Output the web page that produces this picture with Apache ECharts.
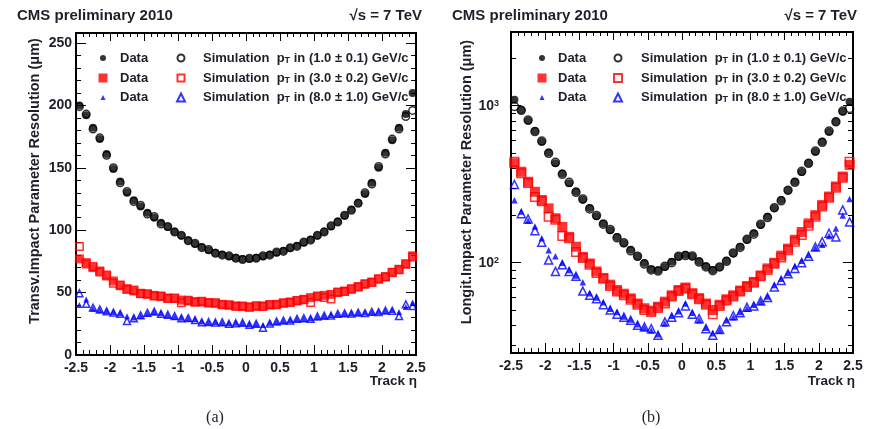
<!DOCTYPE html>
<html>
<head>
<meta charset="utf-8">
<script src="https://cdn.jsdelivr.net/npm/echarts@6/dist/echarts.min.js"></script>
<style>
html,body{margin:0;padding:0;background:#fff;}
#chart{width:871px;height:429px;}
</style>
</head>
<body>
<div id="chart"></div>
<script>
// Track pseudorapidity bin centres (bin width 0.1)
const etaBins = [-2.45,-2.35,-2.25,-2.15,-2.05,-1.95,-1.85,-1.75,-1.65,-1.55,
  -1.45,-1.35,-1.25,-1.15,-1.05,-0.95,-0.85,-0.75,-0.65,-0.55,
  -0.45,-0.35,-0.25,-0.15,-0.05,0.05,0.15,0.25,0.35,0.45,
  0.55,0.65,0.75,0.85,0.95,1.05,1.15,1.25,1.35,1.45,
  1.55,1.65,1.75,1.85,1.95,2.05,2.15,2.25,2.35,2.45];

// (a) transverse impact parameter resolution, µm
const transvData1 = [200,192,182,173,161,149,139,130,124,119,
  114,110,106,102.5,99,95.5,92,89,86.5,84,
  82,80.5,79,78,77,77,78,79,80.5,82,
  83.5,85.5,87.5,90,92.5,95.5,99,103,107,111.5,
  116.5,122,129,138,150,162,172,182,193,210];
const transvSim1 = [199,193,181,174,160,150,138,131,123,120,
  113,111,105,103,98.5,96,91.5,89.5,86,84.5,
  81.5,80,79.5,77.5,76.5,77.5,77.5,79.5,80,82.5,
  83,86,87,90.5,92,96,98.5,103.5,106.5,112,
  116,121.5,130,137,151,161,173,181,191,196];
const transvData3 = [77,74,70,67.3,63.3,59.3,55.5,53.2,51.3,49.5,
  48.6,47.8,46.8,45.7,45.2,44,43.3,42.8,42.5,42,
  41.4,40.6,39.8,39.2,38.8,38.5,39,39.3,40,40.6,
  41.4,42.5,43.3,44.6,46,46.8,47.8,48.6,50,51.3,
  52.7,54.8,56.7,58.5,60.7,62.8,66,68.7,72.7,79.4];
const transvSim3 = [87,73,71,66.5,64,57.5,56,52.5,52,49,
  49,47.2,47.3,45.2,45.6,41.8,43.8,42.3,43,41.6,
  41.8,40.2,40.2,39,39.2,38.2,39.4,38.9,40.4,40.2,
  41.8,42.1,43.7,44.2,42,47.2,46,44.8,50.4,50.9,
  53.1,54.4,57.1,58.1,61.1,62.4,66.4,68.3,73.2,78.5];
const transvData8 = [40,44.5,37,36,35.2,34.4,33.4,31,30,31.2,
  33,34.4,33.4,31.8,30.7,29.9,29.1,28.6,26.8,26,
  26.4,25.9,25.4,25.9,25.4,24.6,24.6,24,25.9,26.5,
  27.2,28,28.6,29,29.4,30.5,31.2,32,32.6,33,
  33.4,33.6,34,34.2,34.6,35.2,36,34.5,38.5,42];
const transvSim8 = [49.5,41,38,36.5,35,34,33,27.2,29.5,31.8,
  33.8,34.8,33,32.3,31.2,29.5,29.6,28,26.2,26.4,
  26,26.3,25,25.4,25.8,24.2,25,21.9,25.2,26.8,
  27.6,27.6,29,29.5,29,30.9,31.5,31.6,33,33.4,
  33.2,34,33.6,34.6,34.4,35.6,35.4,31.2,40.6,39.2];

// (b) longitudinal impact parameter resolution, µm
const longitData1 = [1090,940,802,690,590,503,431,370,321,284,
  252,223,198,178,161,146,133,121,109,99.5,
  91,89.5,94,101.5,109,112.5,109.5,102,95,90,
  93.5,103,114.5,126.5,140,154,174,196,222,251,
  288,328,378,432,509,590,683,795,920,1060];
const longitSim1 = [990,935,810,685,596,498,436,366,325,281,
  255,220,200,176,163,144,134,119,110,98,
  90,88.5,95,100,110,111,110.5,101,94,89,
  94,102,115.5,125,141,152,176,194,224,248,
  290,325,382,430,514,585,690,790,925,962];
const longitData3 = [430,380,328,283,251,222,192,169,146,126.5,
  109,99,88,80,72.5,67,63.5,59.3,55,51.3,
  49.5,52.5,56.5,62,67,69.5,64,59.5,55,50,
  54,58.5,62,66.5,71,75.5,83,92,100,111,
  123,140,157,178,201,233,264,306,354,420];
const longitSim3 = [440,372,322,262,246,196,188,148,143,117,
  107,97,86,79,71,65.5,62,58,54,50,
  48.5,51.5,55,61,66,68.5,63,58.5,54,47,
  53,57.5,61,65.5,70,74.5,82,90,98.5,108,
  120,136,150,172,196,228,259,300,348,440];
const longitData8 = [250,212,185,170,143,120,110,100,90,83,
  75,64,60,56,51,48.5,45.5,43.5,40.5,38.5,
  37,35,41,46,49,55,48,43,38.5,35.5,
  37,43,45,48.5,51,54,56.5,61,72,79,
  86,95,103,112,124,130,148,165,200,255];
const longitSim8 = [315,205,190,160,135,104,88,97,88,82,
  66,62,59,54,50,47,45,43,40,39,
  38,34.5,42,45,48,53,47,44,38,34.5,
  37.5,42,46,48,52,53,57,60,70,77,
  85,92,100,110,126,136,154,146,217,182];

// pT selections shown in the legends
const ptLabels = ['(1.0 \u00b1 0.1)', '(3.0 \u00b1 0.2)', '(8.0 \u00b1 1.0)'];

// axis ranges and tick positions
const transvMax = 258;
const longitMin = 26.6, longitMax = 2950;
const longitMinorTicks = [30,40,50,60,70,80,90,200,300,400,500,600,700,800,900,2000];

const SANS = '"Liberation Sans", Arial, Helvetica, sans-serif';
const TXT = '#1f1f2a';
const tickLine = {color: '#000', width: 1};
const RED = '#ff0000', BLUE = '#0000ff', BLACK = '#000000';

function pairs(vals) { return etaBins.map((x, i) => [x, vals[i]]); }

function etaAxis(gridIndex, position) {
  const bottom = position === 'bottom';
  return {
    type: 'value', gridIndex, position, min: -2.5, max: 2.5, interval: 0.5,
    axisLine: {show: false, onZero: false},
    axisTick: {show: true, inside: true, length: bottom ? 10 : 8, lineStyle: tickLine},
    minorTick: {show: true, splitNumber: 5, length: bottom ? 5 : 4, lineStyle: tickLine},
    splitLine: {show: false}, minorSplitLine: {show: false},
    axisLabel: {show: bottom, margin: 6, color: TXT, fontFamily: SANS, fontWeight: 'bold', fontSize: 14}
  };
}

function transvAxis(position, minor) {
  const main = position === 'left' && !minor;
  return {
    type: 'value', gridIndex: 0, position, min: 0, max: transvMax, interval: minor ? 10 : 50,
    axisLine: {show: false, onZero: false},
    axisTick: {show: true, inside: true, length: minor ? 5 : 10, lineStyle: tickLine},
    splitLine: {show: false},
    axisLabel: {show: main, showMaxLabel: false, margin: 4, color: TXT, fontFamily: SANS, fontWeight: 'bold', fontSize: 14},
    name: main ? 'Transv.Impact Parameter Resolution (\u03bcm)' : '',
    nameLocation: 'middle', nameRotate: 90, nameGap: 34,
    nameTextStyle: {color: TXT, fontFamily: SANS, fontWeight: 'bold', fontSize: 14.5, padding: [0, 0, 0, 26]}
  };
}

function longitAxis(position) {
  const main = position === 'left';
  return {
    type: 'log', logBase: 10, gridIndex: 1, position, min: longitMin, max: longitMax,
    axisLine: {show: false, onZero: false},
    axisTick: {show: true, inside: true, length: 10, lineStyle: tickLine},
    splitLine: {show: false},
    axisLabel: {
      show: main, margin: 12, color: TXT, fontFamily: SANS, fontWeight: 'bold', fontSize: 14,
      formatter: v => {
        const e = Math.log10(v), p = Math.round(e);
        return Math.abs(e - p) < 1e-6 ? '10{sup|' + p + '}' : '';
      },
      rich: {sup: {fontSize: 9, fontWeight: 'bold', fontFamily: SANS, color: TXT, lineHeight: 6, verticalAlign: 'top'}}
    },
    name: main ? 'Longit.Impact Parameter Resolution (\u03bcm)' : '',
    nameLocation: 'middle', nameRotate: 90, nameGap: 32,
    nameTextStyle: {color: TXT, fontFamily: SANS, fontWeight: 'bold', fontSize: 14.5, padding: [0, 0, 0, 21]}
  };
}

function longitMinorAxis(position) {
  return {
    type: 'value', gridIndex: 1, position, min: Math.log10(longitMin), max: Math.log10(longitMax),
    axisLine: {show: false, onZero: false},
    axisTick: {show: true, inside: true, length: 5, lineStyle: tickLine,
      customValues: longitMinorTicks.map(v => Math.log10(v))},
    splitLine: {show: false},
    axisLabel: {show: false}
  };
}

// series definitions: panel, selection, data/sim, values, marker
const seriesSpecs = [
  {id: 'a-d1', panel: 0, row: 0, sim: false, vals: transvData1, symbol: 'circle', size: 8, color: BLACK, lsize: 6},
  {id: 'a-s1', panel: 0, row: 0, sim: true,  vals: transvSim1,  symbol: 'circle', size: 7.5, color: BLACK, lsize: 7},
  {id: 'a-d3', panel: 0, row: 1, sim: false, vals: transvData3, symbol: 'rect', size: 9, color: RED, lsize: 9},
  {id: 'a-s3', panel: 0, row: 1, sim: true,  vals: transvSim3,  symbol: 'rect', size: 7.5, color: RED, lsize: 7},
  {id: 'a-d8', panel: 0, row: 2, sim: false, vals: transvData8, symbol: 'triangle', size: 6, color: BLUE, lsize: 5},
  {id: 'a-s8', panel: 0, row: 2, sim: true,  vals: transvSim8,  symbol: 'triangle', size: 7, color: BLUE, lsize: 8},
  {id: 'b-d1', panel: 1, row: 0, sim: false, vals: longitData1, symbol: 'circle', size: 8, color: BLACK, lsize: 6},
  {id: 'b-s1', panel: 1, row: 0, sim: true,  vals: longitSim1,  symbol: 'circle', size: 8, color: BLACK, lsize: 7},
  {id: 'b-d3', panel: 1, row: 1, sim: false, vals: longitData3, symbol: 'rect', size: 10, color: RED, lsize: 9},
  {id: 'b-s3', panel: 1, row: 1, sim: true,  vals: longitSim3,  symbol: 'rect', size: 8.5, color: RED, lsize: 8},
  {id: 'b-d8', panel: 1, row: 2, sim: false, vals: longitData8, symbol: 'triangle', size: 6.5, color: BLUE, lsize: 5},
  {id: 'b-s8', panel: 1, row: 2, sim: true,  vals: longitSim8,  symbol: 'triangle', size: 8, color: BLUE, lsize: 8}
];

const series = seriesSpecs.map(s => ({
  type: 'scatter', name: s.id, silent: true,
  xAxisIndex: s.panel === 0 ? 0 : 2,
  yAxisIndex: s.panel === 0 ? 0 : 4,
  symbol: s.symbol, symbolSize: s.size,
  z: s.sim ? 3 : 2,
  itemStyle: s.sim
    ? {color: 'transparent', borderColor: s.color, borderWidth: 1.5}
    : {color: s.color, borderWidth: 0},
  data: pairs(s.vals)
}));

// legend layout (marker centre x, text start x) per panel and column
const legendCols = [
  [{mx: 103, tx: 120}, {mx: 180, tx: 202}],
  [{mx: 542, tx: 558}, {mx: 617, tx: 640}]
];
const legendRows = [58, 78, 97.5];

const legends = seriesSpecs.map(s => {
  const col = legendCols[s.panel][s.sim ? 1 : 0];
  const pad = col.tx - (col.mx + s.lsize / 2 + 5);
  const label = s.sim ? 'Simulation  p{sub|T} in ' + ptLabels[s.row] + ' GeV/c' : 'Data';
  return {
    show: true, orient: 'horizontal', padding: 0,
    left: col.mx - s.lsize / 2, top: legendRows[s.row] - 7,
    itemWidth: s.lsize, itemHeight: s.lsize,
    data: [{name: s.id}],
    formatter: () => label,
    selectedMode: false,
    textStyle: {
      color: TXT, fontFamily: SANS, fontWeight: 'bold', fontSize: 13, lineHeight: 14,
      padding: [0, 0, 0, pad],
      rich: {sub: {fontSize: 9, fontWeight: 'bold', fontFamily: SANS, color: TXT, lineHeight: 6, verticalAlign: 'bottom'}}
    }
  };
});

const headFont = 'bold 15px ' + SANS;
const axisTitleFont = 'bold 13.5px ' + SANS;
const option = {
  animation: false,
  backgroundColor: '#ffffff',
  grid: [
    {left: 76, top: 33, width: 340, height: 322, show: true, borderColor: '#000', borderWidth: 2, backgroundColor: 'transparent'},
    {left: 511, top: 32, width: 342, height: 321, show: true, borderColor: '#000', borderWidth: 2, backgroundColor: 'transparent'}
  ],
  xAxis: [etaAxis(0, 'bottom'), etaAxis(0, 'top'), etaAxis(1, 'bottom'), etaAxis(1, 'top')],
  yAxis: [
    transvAxis('left', false), transvAxis('left', true), transvAxis('right', false), transvAxis('right', true),
    longitAxis('left'), longitMinorAxis('left'), longitAxis('right'), longitMinorAxis('right')
  ],
  legend: legends,
  series,
  graphic: [
    {type: 'text', x: 17, y: 16, style: {text: 'CMS preliminary 2010', font: headFont, fill: TXT, align: 'left', verticalAlign: 'middle'}},
    {type: 'text', x: 422, y: 16, style: {text: '\u221as = 7 TeV', font: headFont, fill: TXT, align: 'right', verticalAlign: 'middle'}},
    {type: 'text', x: 452, y: 16, style: {text: 'CMS preliminary 2010', font: headFont, fill: TXT, align: 'left', verticalAlign: 'middle'}},
    {type: 'text', x: 857, y: 16, style: {text: '\u221as = 7 TeV', font: headFont, fill: TXT, align: 'right', verticalAlign: 'middle'}},
    {type: 'text', x: 417, y: 381, style: {text: 'Track \u03b7', font: axisTitleFont, fill: TXT, align: 'right', verticalAlign: 'middle'}},
    {type: 'text', x: 855, y: 381, style: {text: 'Track \u03b7', font: axisTitleFont, fill: TXT, align: 'right', verticalAlign: 'middle'}},
    {type: 'text', x: 215, y: 418, style: {text: '(a)', font: '16px "Liberation Serif", serif', fill: TXT, align: 'center', verticalAlign: 'middle'}},
    {type: 'text', x: 651, y: 418, style: {text: '(b)', font: '16px "Liberation Serif", serif', fill: TXT, align: 'center', verticalAlign: 'middle'}}
  ]
};

const chart = echarts.init(document.getElementById('chart'));
chart.setOption(option);
</script>
</body>
</html>
